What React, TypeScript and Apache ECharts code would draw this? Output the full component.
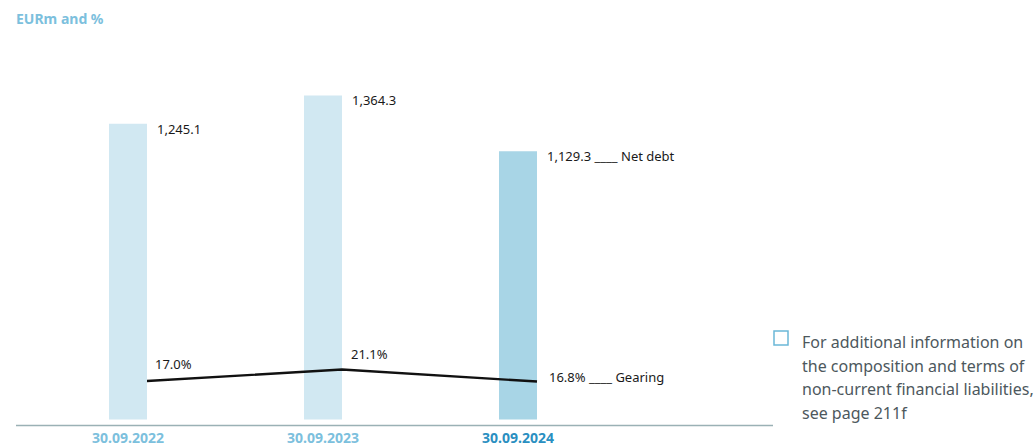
import React, { useEffect, useRef } from "react";
import * as echarts from "echarts";

const categories = ["30.09.2022", "30.09.2023", "30.09.2024"];
const netDebt = [1245.1, 1364.3, 1129.3];
const gearing = [17.0, 21.1, 16.8];
const barColors = ["#d1e8f2", "#d1e8f2", "#a8d5e6"];
const categoryColors = ["#7cc0dd", "#7cc0dd", "#2a8fc1"];
const seriesNames = ["Net debt", "Gearing"];
const titleText = "EURm and %";
const noteLines = [
  "For additional information on",
  "the composition and terms of",
  "non-current financial liabilities,",
  "see page 211f",
];

const FONT = "'Noto Sans', 'Open Sans', sans-serif";

export default function App() {
  const ref = useRef<HTMLDivElement>(null);
  useEffect(() => {
    if (!ref.current) return;
    const chart = echarts.init(ref.current, null, { renderer: "svg" });
    const last = categories.length - 1;
    const fmtNum = (v: number) =>
      v.toLocaleString("en-US", { minimumFractionDigits: 1, maximumFractionDigits: 1 });

    chart.setOption({
      animation: false,
      textStyle: { fontFamily: FONT },
      grid: [
        { left: 30.5, width: 585, top: 39.5, bottom: 26.5 },
        { left: 49.5, width: 585, top: 344.6, bottom: 17.4 },
      ],
      xAxis: [
        {
          type: "category",
          gridIndex: 0,
          data: categories,
          axisLine: { show: false },
          axisTick: { show: false },
          axisLabel: {
            fontFamily: FONT,
            fontWeight: "bold",
            fontSize: 14,
            margin: 11,
            color: (_v: any, i: number) => categoryColors[i],
          },
        },
        { type: "category", gridIndex: 1, data: categories, show: false },
      ],
      yAxis: [
        { type: "value", gridIndex: 0, min: 0, max: 1600, show: false, splitLine: { show: false } },
        { type: "value", gridIndex: 1, min: 0, max: 30, show: false, splitLine: { show: false } },
      ],
      series: [
        {
          name: seriesNames[0],
          type: "bar",
          xAxisIndex: 0,
          yAxisIndex: 0,
          barWidth: 38,
          data: netDebt.map((v, i) => ({
            value: v,
            itemStyle: { color: barColors[i] },
            label: {
              show: true,
              position: [48, 5],
              align: "left",
              verticalAlign: "middle",
              fontFamily: FONT,
              fontSize: 13,
              color: "#1a1a1a",
              formatter: () => fmtNum(v) + (i === last ? " ____ " + seriesNames[0] : ""),
            },
          })),
        },
        {
          name: seriesNames[1],
          type: "line",
          xAxisIndex: 1,
          yAxisIndex: 1,
          symbol: "circle",
          symbolSize: 0.1,
          lineStyle: { color: "#111", width: 2.4 },
          itemStyle: { color: "#111" },
          data: gearing.map((v, i) => ({
            value: v,
            label: {
              show: true,
              position: i === last ? [12, -5] : i === 0 ? [8, -17] : [9, -15],
              align: "left",
              verticalAlign: "middle",
              fontFamily: FONT,
              fontSize: 13,
              color: "#1a1a1a",
              formatter: () => v.toFixed(1) + "%" + (i === last ? " ____ " + seriesNames[1] : ""),
            },
          })),
        },
      ],
      graphic: [
        {
          type: "line",
          shape: { x1: 16, y1: 425.5, x2: 773, y2: 425.5 },
          style: { stroke: "#9ab1b5", lineWidth: 1.3 },
          silent: true,
        },
        {
          type: "text",
          x: 16,
          y: 18,
          style: {
            text: titleText,
            fill: "#7cc0dd",
            font: `bold 14px ${FONT}`,
            verticalAlign: "middle",
          },
        },
        {
          type: "rect",
          shape: { x: 774, y: 331, width: 14, height: 14 },
          style: { fill: "none", stroke: "#6bb8d8", lineWidth: 1.5 },
        },
        {
          type: "text",
          x: 802,
          y: 330.5,
          style: {
            text: noteLines.join("\n"),
            fill: "#4d585d",
            font: `16px ${FONT}`,
            lineHeight: 23.5,
            verticalAlign: "top",
          },
        },
      ],
    });
    return () => chart.dispose();
  }, []);
  return (
    <div
      ref={ref}
      style={{ position: "absolute", left: 0, top: 0, width: 1035, height: 446 }}
    />
  );
}
